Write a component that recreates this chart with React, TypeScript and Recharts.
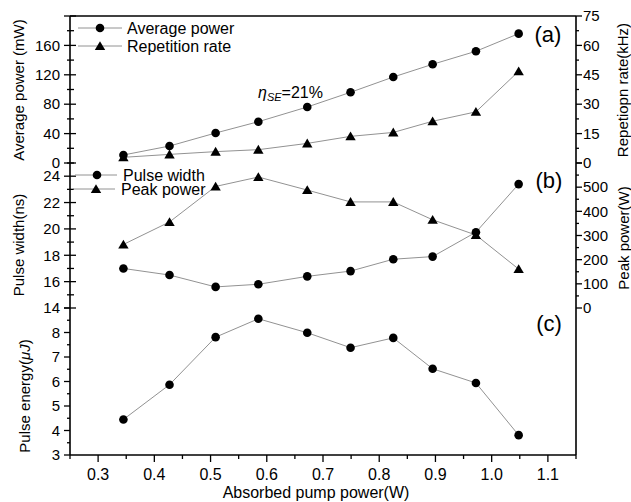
import React from 'react';
import { LineChart, Line, XAxis, YAxis, ReferenceLine } from 'recharts';

// absorbed pump power (W)
const pumpPower = [0.345, 0.427, 0.509, 0.585, 0.672, 0.749, 0.825, 0.895, 0.972, 1.048];
// panel (a)
const avgPower = [10.9, 23.1, 40.8, 56.2, 76.2, 96.2, 117, 134.3, 152, 176];
const repRate = [2.9, 4.4, 5.8, 6.8, 10, 13.6, 15.6, 21.3, 26.1, 46.8];
// panel (b)
const pulseWidth = [17.0, 16.5, 15.6, 15.8, 16.4, 16.8, 17.7, 17.9, 19.75, 23.4];
const peakPower = [263, 356, 503, 542, 488, 439, 439, 365, 302, 161];
// panel (c)
const pulseEnergy = [4.45, 5.87, 7.81, 8.56, 7.99, 7.38, 7.78, 6.52, 5.94, 3.81];

// ticks
const xMajor = [0.3, 0.4, 0.5, 0.6, 0.7, 0.8, 0.9, 1.0, 1.1];
const xMinor = [0.25, 0.35, 0.45, 0.55, 0.65, 0.75, 0.85, 0.95, 1.05, 1.15];
const avgMajor = [0, 40, 80, 120, 160, 200];
const avgMinor = [20, 60, 100, 140, 180];
const repMajor = [0, 15, 30, 45, 60, 75];
const repMinor = [7.5, 22.5, 37.5, 52.5, 67.5];
const widthMajor = [14, 16, 18, 20, 22, 24];
const widthMinor = [15, 17, 19, 21, 23, 25];
const peakMajor = [0, 100, 200, 300, 400, 500, 600];
const peakMinor = [50, 150, 250, 350, 450, 550];
const energyMajor = [3, 4, 5, 6, 7, 8, 9];
const energyMinor = [3.5, 4.5, 5.5, 6.5, 7.5, 8.5];

const W = 631;
const H = 502;
const LEFT = 70;
const RIGHT = 576;
const A_TOP = 16;
const A_BOTTOM = 163;
const B_BOTTOM = 308;
const C_BOTTOM = 455;

const FONT = '"Liberation Sans", Arial, sans-serif';
const LINE = '#929292';
const AXIS = { stroke: '#000', strokeWidth: 1.6 };

const panelA = pumpPower.map((x, i) => ({ x, avg: avgPower[i], rep: repRate[i] }));
const panelB = pumpPower.map((x, i) => ({ x, width: pulseWidth[i], peak: peakPower[i] }));
const panelC = pumpPower.map((x, i) => ({ x, energy: pulseEnergy[i] }));

const TriangleDot = (props: any) => {
  const { cx, cy, index } = props;
  if (cx == null || cy == null) return null;
  return (
    <polygon
      key={`tri-${index}`}
      points={`${cx},${cy - 4.8} ${cx - 5.2},${cy + 4} ${cx + 5.2},${cy + 4}`}
      fill="#000"
    />
  );
};

const circleDot = { r: 4.3, fill: '#000', stroke: 'none' };

const makeXTick = (axisY: number, inward: boolean, labels: boolean) => (props: any) => {
  const { x, payload } = props;
  const major = xMajor.includes(payload.value);
  const len = major ? 7 : 4;
  return (
    <g>
      <line x1={x} x2={x} y1={axisY} y2={inward ? axisY - len : axisY + len} stroke="#000" strokeWidth={1.3} />
      {labels && major && (
        <text x={x} y={474} dy="0.35em" textAnchor="middle" fontFamily={FONT} fontSize={16} fill="#000">
          {payload.value.toFixed(1)}
        </text>
      )}
    </g>
  );
};

// hidden = major value whose label is left out (it sits on a panel border)
const makeYTick =
  (side: 'left' | 'right', majors: number[], hidden: number | null, cross: boolean) =>
  (props: any) => {
    const { y, payload } = props;
    const v = payload.value;
    const major = majors.includes(v);
    const out = major ? 6 : 3;
    const inn = cross ? (major ? 6 : 4) : 0;
    const ax = side === 'left' ? LEFT : RIGHT;
    const sgn = side === 'left' ? -1 : 1;
    return (
      <g>
        <line x1={ax + sgn * out} x2={ax - sgn * inn} y1={y} y2={y} stroke="#000" strokeWidth={1.3} />
        {major && v !== hidden && (
          <text
            x={side === 'left' ? ax - 10 : ax + 7}
            y={y}
            dy="0.35em"
            textAnchor={side === 'left' ? 'end' : 'start'}
            fontFamily={FONT}
            fontSize={15}
            fill="#000"
          >
            {v}
          </text>
        )}
      </g>
    );
  };

const layer: React.CSSProperties = { position: 'absolute', left: 0, top: 0 };

const Overlay = () => (
  <svg width={W} height={H} style={{ ...layer, pointerEvents: 'none' }} fontFamily={FONT}>
    {/* legend (a) */}
    <line x1={78} x2={122} y1={28} y2={28} stroke={LINE} />
    <circle cx={100} cy={28} r={4.3} fill="#000" />
    <text x={127} y={28} dy="0.35em" fontSize={16}>Average power</text>
    <line x1={78} x2={122} y1={46} y2={46} stroke={LINE} />
    <polygon points="100,41.2 94.8,50 105.2,50" fill="#000" />
    <text x={127} y={46} dy="0.35em" fontSize={16}>Repetition rate</text>
    {/* legend (b) */}
    <line x1={75} x2={117} y1={175} y2={175} stroke={LINE} />
    <circle cx={97} cy={175} r={4.3} fill="#000" />
    <text x={123} y={175} dy="0.35em" fontSize={16}>Pulse width</text>
    <line x1={73} x2={115} y1={189} y2={189} stroke={LINE} />
    <polygon points="96,184.2 90.8,193 101.2,193" fill="#000" />
    <text x={121} y={189} dy="0.35em" fontSize={16}>Peak power</text>
    {/* annotation */}
    <text x={258} y={98} fontSize={16}>
      <tspan fontStyle="italic">η</tspan>
      <tspan fontStyle="italic" fontSize={11} dy={3}>SE</tspan>
      <tspan dy={-3}>=21%</tspan>
    </text>
    {/* panel labels */}
    <text x={548} y={34} dy="0.35em" textAnchor="middle" fontSize={22}>(a)</text>
    <text x={549} y={180} dy="0.35em" textAnchor="middle" fontSize={22}>(b)</text>
    <text x={549} y={323} dy="0.35em" textAnchor="middle" fontSize={22}>(c)</text>
    {/* axis titles */}
    <text transform="rotate(-90 19 90)" x={19} y={90} dy="0.35em" textAnchor="middle" fontSize={15}>
      Average power (mW)
    </text>
    <text transform="rotate(-90 19 245)" x={19} y={245} dy="0.35em" textAnchor="middle" fontSize={15}>
      Pulse width(ns)
    </text>
    <text transform="rotate(-90 25 396)" x={25} y={396} dy="0.35em" textAnchor="middle" fontSize={15}>
      Pulse energy(<tspan fontStyle="italic">μJ</tspan>)
    </text>
    <text transform="rotate(-90 623 90)" x={623} y={90} dy="0.35em" textAnchor="middle" fontSize={15}>
      Repetiopn rate(kHz)
    </text>
    <text transform="rotate(-90 624 238)" x={624} y={238} dy="0.35em" textAnchor="middle" fontSize={15}>
      Peak power(W)
    </text>
    <text x={316} y={492} dy="0.35em" textAnchor="middle" fontSize={16}>
      Absorbed pump power(W)
    </text>
  </svg>
);

const xProps = {
  dataKey: 'x',
  type: 'number' as const,
  domain: [0.25, 1.15],
  ticks: [...xMinor, ...xMajor].sort((a, b) => a - b),
  interval: 0 as const,
  tickLine: false,
  axisLine: AXIS,
  allowDataOverflow: true,
};

export default function App() {
  return (
    <div style={{ position: 'absolute', left: 0, top: 0, width: W, height: H, background: '#fff' }}>
      {/* panel (a) */}
      <div style={layer}>
        <LineChart width={W} height={H} data={panelA} margin={{ top: A_TOP, bottom: H - A_BOTTOM, left: 0, right: 0 }}>
          <XAxis {...xProps} height={0} tick={makeXTick(A_BOTTOM, true, false)} />
          <YAxis
            yAxisId="l"
            width={LEFT}
            domain={[0, 200]}
            ticks={[...avgMajor, ...avgMinor].sort((a, b) => a - b)}
            interval={0}
            tickLine={false}
            axisLine={AXIS}
            tick={makeYTick('left', avgMajor, 200, true)}
          />
          <YAxis
            yAxisId="r"
            orientation="right"
            width={W - RIGHT}
            domain={[0, 75]}
            ticks={[...repMajor, ...repMinor].sort((a, b) => a - b)}
            interval={0}
            tickLine={false}
            axisLine={AXIS}
            tick={makeYTick('right', repMajor, null, false)}
          />
          <ReferenceLine yAxisId="l" y={200} stroke="#000" strokeWidth={1.6} />
          <Line yAxisId="l" dataKey="avg" stroke={LINE} strokeWidth={1} dot={circleDot} activeDot={false} isAnimationActive={false} />
          <Line yAxisId="r" dataKey="rep" stroke={LINE} strokeWidth={1} dot={TriangleDot} activeDot={false} isAnimationActive={false} />
        </LineChart>
      </div>
      {/* panel (b) */}
      <div style={layer}>
        <LineChart width={W} height={H} data={panelB} margin={{ top: A_BOTTOM, bottom: H - B_BOTTOM, left: 0, right: 0 }}>
          <XAxis {...xProps} height={0} tick={makeXTick(B_BOTTOM, true, false)} />
          <YAxis
            yAxisId="l"
            width={LEFT}
            domain={[14, 25]}
            ticks={[...widthMajor, ...widthMinor].sort((a, b) => a - b)}
            interval={0}
            tickLine={false}
            axisLine={AXIS}
            tick={makeYTick('left', widthMajor, 25, true)}
          />
          <YAxis
            yAxisId="r"
            orientation="right"
            width={W - RIGHT}
            domain={[0, 600]}
            ticks={[...peakMajor, ...peakMinor].sort((a, b) => a - b)}
            interval={0}
            tickLine={false}
            axisLine={AXIS}
            tick={makeYTick('right', peakMajor, 600, false)}
          />
          <Line yAxisId="l" dataKey="width" stroke={LINE} strokeWidth={1} dot={circleDot} activeDot={false} isAnimationActive={false} />
          <Line yAxisId="r" dataKey="peak" stroke={LINE} strokeWidth={1} dot={TriangleDot} activeDot={false} isAnimationActive={false} />
        </LineChart>
      </div>
      {/* panel (c) */}
      <div style={layer}>
        <LineChart width={W} height={H} data={panelC} margin={{ top: B_BOTTOM, bottom: 0, left: 0, right: 0 }}>
          <XAxis {...xProps} height={H - C_BOTTOM} tick={makeXTick(C_BOTTOM, false, true)} />
          <YAxis
            yAxisId="l"
            width={LEFT}
            domain={[3, 9]}
            ticks={[...energyMajor, ...energyMinor].sort((a, b) => a - b)}
            interval={0}
            tickLine={false}
            axisLine={AXIS}
            tick={makeYTick('left', energyMajor, 9, false)}
          />
          <YAxis yAxisId="r" orientation="right" width={W - RIGHT} domain={[3, 9]} tick={false} tickLine={false} axisLine={AXIS} />
          <Line yAxisId="l" dataKey="energy" stroke={LINE} strokeWidth={1} dot={circleDot} activeDot={false} isAnimationActive={false} />
        </LineChart>
      </div>
      <Overlay />
    </div>
  );
}
